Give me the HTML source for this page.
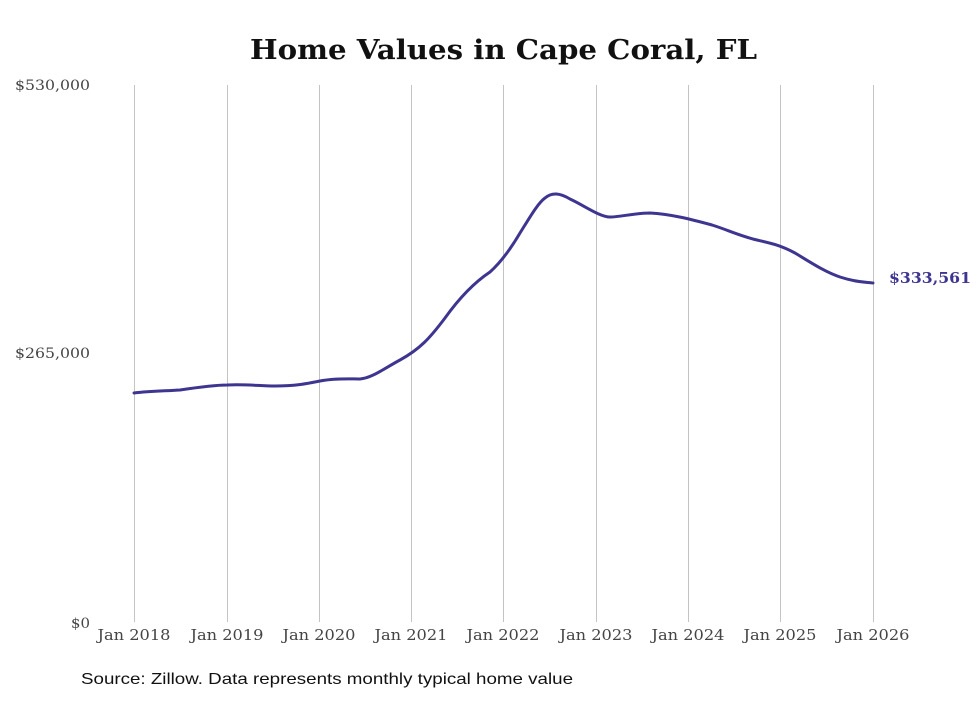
<!DOCTYPE html>
<html><head><meta charset="utf-8"><style>
body{margin:0;background:#fff;width:980px;height:699px;overflow:hidden}
</style></head><body>
<svg width="980" height="699" xmlns="http://www.w3.org/2000/svg" font-family="DejaVu Serif, serif">
<text x="250" y="59" font-size="27" font-weight="bold" fill="#111" textLength="507" lengthAdjust="spacingAndGlyphs">Home Values in Cape Coral, FL</text>
<g stroke="#c4c4c4" stroke-width="1">
<line x1="134.5" y1="85" x2="134.5" y2="622"/><line x1="227.5" y1="85" x2="227.5" y2="622"/>
<line x1="319.5" y1="85" x2="319.5" y2="622"/><line x1="411.5" y1="85" x2="411.5" y2="622"/>
<line x1="503.5" y1="85" x2="503.5" y2="622"/><line x1="596.5" y1="85" x2="596.5" y2="622"/>
<line x1="688.5" y1="85" x2="688.5" y2="622"/><line x1="780.5" y1="85" x2="780.5" y2="622"/>
<line x1="873.5" y1="85" x2="873.5" y2="622"/>
</g>
<g font-size="14" fill="#444">
<text x="15" y="90" textLength="75" lengthAdjust="spacingAndGlyphs">$530,000</text>
<text x="15" y="358" textLength="75" lengthAdjust="spacingAndGlyphs">$265,000</text>
<text x="71" y="628" textLength="19" lengthAdjust="spacingAndGlyphs">$0</text>
</g>
<g font-size="15" fill="#444" text-anchor="middle">
<text x="134" y="640" textLength="73" lengthAdjust="spacingAndGlyphs">Jan 2018</text><text x="227" y="640" textLength="73" lengthAdjust="spacingAndGlyphs">Jan 2019</text><text x="319" y="640" textLength="73" lengthAdjust="spacingAndGlyphs">Jan 2020</text>
<text x="411" y="640" textLength="73" lengthAdjust="spacingAndGlyphs">Jan 2021</text><text x="503" y="640" textLength="73" lengthAdjust="spacingAndGlyphs">Jan 2022</text><text x="596" y="640" textLength="73" lengthAdjust="spacingAndGlyphs">Jan 2023</text>
<text x="688" y="640" textLength="73" lengthAdjust="spacingAndGlyphs">Jan 2024</text><text x="780" y="640" textLength="73" lengthAdjust="spacingAndGlyphs">Jan 2025</text><text x="873" y="640" textLength="73" lengthAdjust="spacingAndGlyphs">Jan 2026</text>
</g>
<path fill="none" stroke="#3d3590" stroke-width="3" stroke-linejoin="round" stroke-linecap="round"
d="M134,393 C150,391 165,391 180,390 C200,387 215,385 227,385 C245,384 260,386 275,386 C295,386 305,384 320,381 C335,378 350,379 360,379 C372,378 385,368 400,360 C420,349 430,338 445,318 C460,297 475,282 490,272 C500,263 510,250 520,233 C530,217 538,203 545,198 C552,192 560,193 570,199 C585,206 600,217 610,217 C620,217 635,213 650,213 C670,214 690,219 712,225 C728,230 740,236 757,240 C770,243 780,245 795,253 C810,262 825,272 840,277 C855,282 865,282 873,283"/>
<text x="889" y="283" font-size="15" font-weight="bold" fill="#3d3590" textLength="82" lengthAdjust="spacingAndGlyphs">$333,561</text>
<text x="81" y="684" font-size="16" fill="#111" font-family="Liberation Sans, sans-serif" textLength="492" lengthAdjust="spacingAndGlyphs">Source: Zillow. Data represents monthly typical home value</text>
</svg>
</body></html>
